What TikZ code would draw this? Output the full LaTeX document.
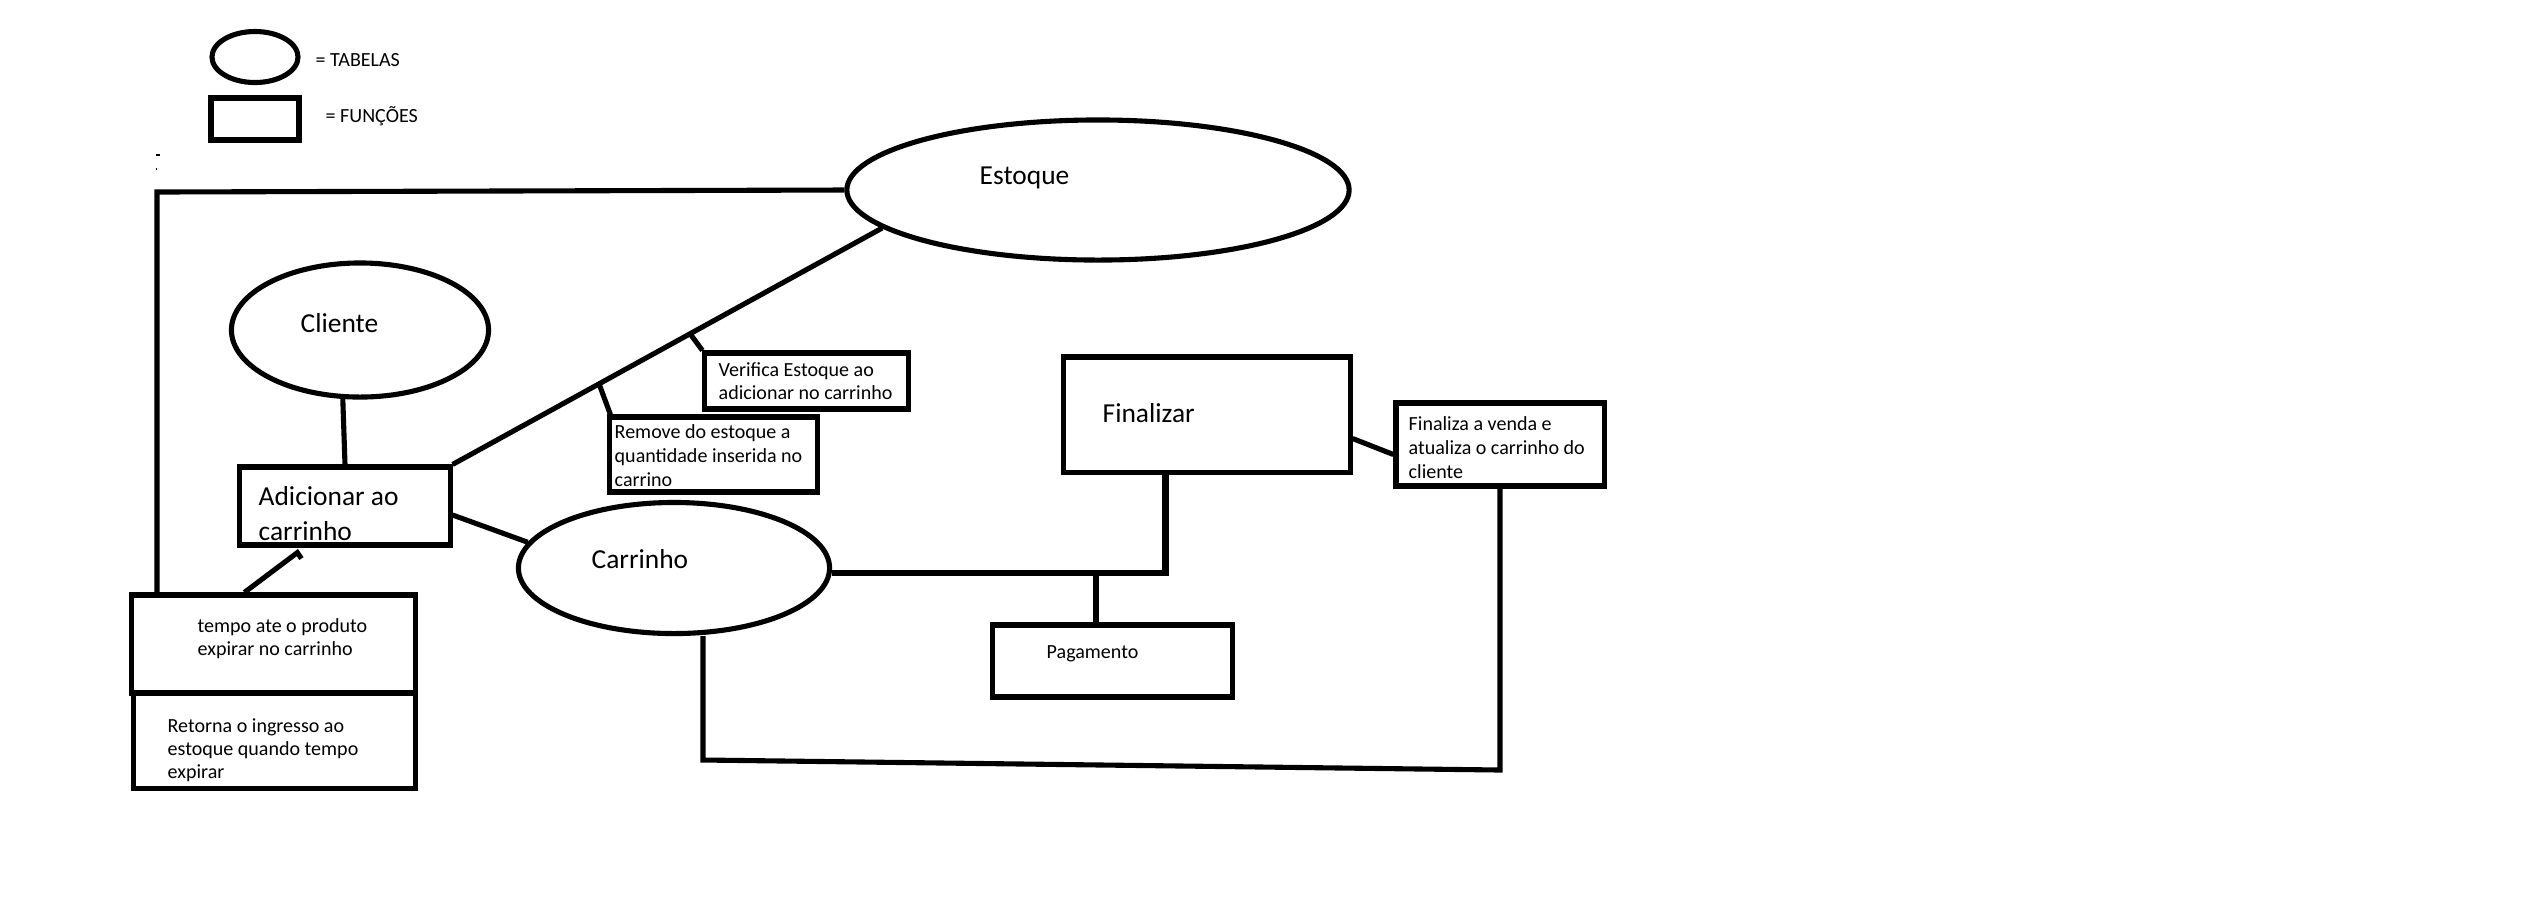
\documentclass[tikz,border=0pt]{standalone}
\usepackage{fontspec}
\setmainfont{Carlito}
\usetikzlibrary{shapes.geometric,calc}
\begin{document}
\begin{tikzpicture}[x=0.01cm,y=-0.01cm,
  ln/.style={line width=1.45pt},
  thk/.style={line width=1.95pt},
  tab/.style={ellipse,draw,ln,inner sep=0pt},
  fun/.style={rectangle,draw,ln,inner sep=0pt},
  big/.style={anchor=base west,inner sep=0pt,font=\fontsize{7.8}{9}\selectfont},
  sml/.style={anchor=base west,inner sep=0pt,font=\fontsize{5.7}{6.8}\selectfont}]
\fill[white] (0,0) rectangle (2548,920);
\useasboundingbox (0,0) rectangle (2548,920);

% legend
\node[tab,minimum width=0.86cm,minimum height=0.51cm] (legT) at (255,57) {};
\node[fun,minimum width=0.88cm,minimum height=0.42cm] (legF) at (255,119) {};
\node[sml] (legTt) at (315,66) {= TABELAS};
\node[sml] (legFt) at (325,122) {= FUNÇÕES};
\draw[line width=0.3pt] (156,155) -- (160,155);
\fill (156,167.5) rectangle (157,169.5);

% tables
\node[tab,minimum width=5.02cm,minimum height=1.40cm] (estoque) at (1098,190) {};
\node[big] (estoqueT) at (979,184) {Estoque};
\node[tab,minimum width=2.57cm,minimum height=1.34cm] (cliente) at (360,330) {};
\node[big] (clienteT) at (300,332) {Cliente};
\node[tab,minimum width=3.11cm,minimum height=1.31cm] (carrinho) at (674,568) {};
\node[big] (carrinhoT) at (591,568) {Carrinho};

% functions
\node[fun,minimum width=2.10cm,minimum height=0.78cm] (adicionar) at (345,506) {};
\node[big] (adicionarT1) at (258,505) {Adicionar ao};
\node[big] (adicionarT2) at (258,540) {carrinho};

\node[fun,minimum width=2.86cm,minimum height=1.15cm] (finalizar) at (1207,414.5) {};
\node[big] (finalizarT) at (1102,422) {Finalizar};

\node[fun,minimum width=2.39cm,minimum height=0.72cm] (pagamento) at (1112.5,661) {};
\node[sml] (pagamentoT) at (1046,658) {Pagamento};

\node[fun,minimum width=2.08cm,minimum height=0.83cm] (finaliza) at (1500,444.5) {};
\node[sml] (finalizaT1) at (1408,430) {Finaliza a venda e};
\node[sml] (finalizaT2) at (1408,454) {atualiza o carrinho do};
\node[sml] (finalizaT3) at (1408,478) {cliente};

\node[fun,minimum width=2.03cm,minimum height=0.56cm] (verifica) at (806.5,381) {};
\node[sml] (verificaT1) at (718,376) {Verifica Estoque ao};
\node[sml] (verificaT2) at (718,399) {adicionar no carrinho};

\node[fun,minimum width=2.07cm,minimum height=0.75cm] (remove) at (713.5,454.5) {};
\node[sml] (removeT1) at (614,438) {Remove do estoque a};
\node[sml] (removeT2) at (614,462) {quantidade inserida no};
\node[sml] (removeT3) at (614,486) {carrino};

\node[fun,minimum width=2.83cm,minimum height=0.98cm] (tempo) at (273.5,644) {};
\node[sml] (tempoT1) at (197,632) {tempo ate o produto};
\node[sml] (tempoT2) at (197,655) {expirar no carrinho};

\node[fun,minimum width=2.81cm,minimum height=0.95cm] (retorna) at (274.5,740.5) {};
\node[sml] (retornaT1) at (167,732) {Retorna o ingresso ao};
\node[sml] (retornaT2) at (167,755) {estoque quando tempo};
\node[sml] (retornaT3) at (167,778) {expirar};

% connectors
\coordinate (c1) at (157,192);
\draw[ln] (estoque.west) -- (c1) -- (c1 |- tempo.north);

\draw[ln] (cliente.256) -- (adicionar.north);

\coordinate (aNE) at (adicionar.north east);
\coordinate (eSW) at (estoque.190);
\draw[ln] (aNE) -- (eSW);
\coordinate (b1) at ($(aNE)!0.341!(eSW)$);
\coordinate (b2) at ($(aNE)!0.553!(eSW)$);
\draw[ln] (b1) -- ($(remove.north west)+(3,0)$);
\draw[ln] (b2) -- (verifica.north west);

\draw[ln] ($(adicionar.east)+(0,9)$) -- (carrinho.170);

\draw[thk] ($(carrinho.east)+(0,5)$) -| ($(finalizar.south west)+(104,0)$);
\coordinate (pj) at (1096,573);
\draw[ln] (pj) -- (pj |- pagamento.north);

\draw[ln] ($(finalizar.east)+(0,24)$) -- ($(finaliza.west)+(0,10)$);

\coordinate (br) at (1500,770);
\coordinate (bl) at (703,760);
\draw[ln] (finaliza.south) -- (br) -- (bl) -- (bl |- carrinho.south);

\draw[ln] ($(tempo.north west)+(115,0)$) -- ($(adicionar.south west)+(60,5)$) -- ++(4,6);
\end{tikzpicture}
\end{document}
